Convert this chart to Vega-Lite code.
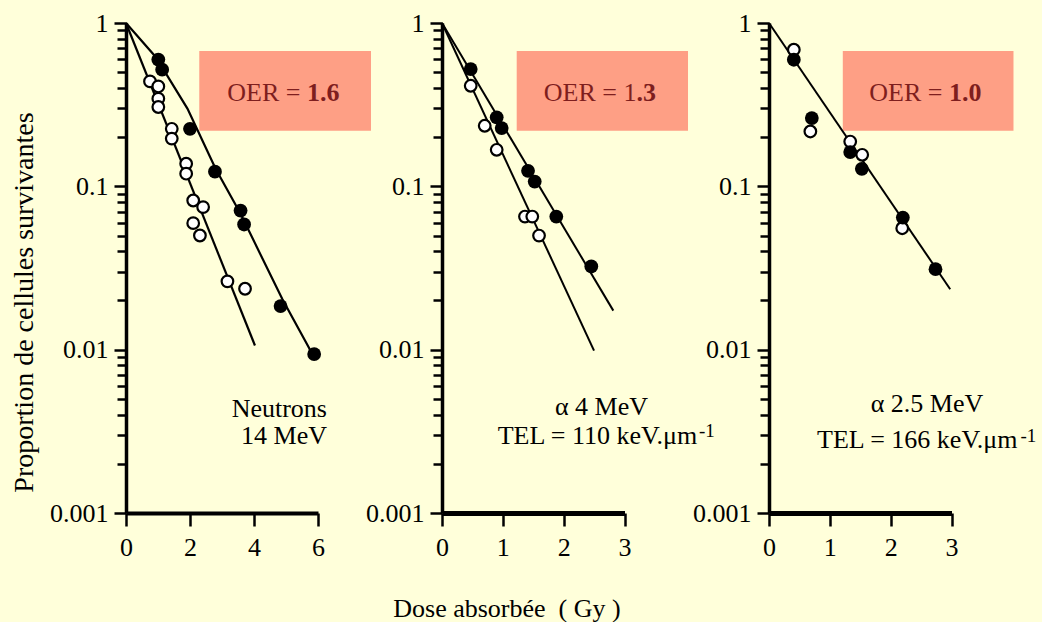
{
  "$schema": "https://vega.github.io/schema/vega-lite/v6.json",
  "background": "#FFFFDA",
  "padding": {"left": 10, "top": 10, "right": 5, "bottom": 0},
  "bounds": "flush",
  "spacing": 124,
  "config": {
    "view": {"stroke": null},
    "font": "Liberation Serif",
    "axis": {
      "grid": false,
      "domainColor": "black",
      "tickColor": "black",
      "labelColor": "black",
      "labelFont": "Liberation Serif",
      "labelFontSize": 26,
      "titleFont": "Liberation Serif",
      "titleFontSize": 26,
      "titleFontWeight": "normal",
      "titleColor": "black",
      "labelFlush": false,
      "labelOverlap": false,
      "tickWidth": 2.5
    },
    "axisX": {"domainWidth": 5, "tickSize": 13, "labelPadding": 8, "labelAngle": 0, "labelFontSize": 26},
    "axisY": {"domainWidth": 3.5, "labelPadding": 6, "labelFontSize": 26}
  },
  "datasets": {
    "box1": [{"dose": 2.29, "dose2": 7.656, "surv": 0.674, "surv2": 0.2188}],
    "box2": [{"dose": 1.228, "dose2": 4.044, "surv": 0.674, "surv2": 0.2188}],
    "box3": [{"dose": 1.213, "dose2": 4.019, "surv": 0.674, "surv2": 0.2188}],
    "pts1": [
      {"dose": 0.75, "surv": 0.439, "cond": "oxic"},
      {"dose": 1.01, "surv": 0.409, "cond": "oxic"},
      {"dose": 1.01, "surv": 0.344, "cond": "oxic"},
      {"dose": 1.01, "surv": 0.306, "cond": "oxic"},
      {"dose": 1.43, "surv": 0.225, "cond": "oxic"},
      {"dose": 1.43, "surv": 0.196, "cond": "oxic"},
      {"dose": 1.88, "surv": 0.1375, "cond": "oxic"},
      {"dose": 1.88, "surv": 0.1195, "cond": "oxic"},
      {"dose": 2.1, "surv": 0.0819, "cond": "oxic"},
      {"dose": 2.41, "surv": 0.0746, "cond": "oxic"},
      {"dose": 2.1, "surv": 0.0595, "cond": "oxic"},
      {"dose": 2.31, "surv": 0.05, "cond": "oxic"},
      {"dose": 3.17, "surv": 0.0262, "cond": "oxic"},
      {"dose": 3.72, "surv": 0.0236, "cond": "oxic"},
      {"dose": 1.01, "surv": 0.597, "cond": "hypoxic"},
      {"dose": 1.13, "surv": 0.518, "cond": "hypoxic"},
      {"dose": 2.0, "surv": 0.225, "cond": "hypoxic"},
      {"dose": 2.78, "surv": 0.123, "cond": "hypoxic"},
      {"dose": 3.58, "surv": 0.0711, "cond": "hypoxic"},
      {"dose": 3.69, "surv": 0.0584, "cond": "hypoxic"},
      {"dose": 4.83, "surv": 0.0185, "cond": "hypoxic"},
      {"dose": 5.88, "surv": 0.0094, "cond": "hypoxic"}
    ],
    "fit1": [
      {"dose": 0, "surv": 1, "cond": "hypoxic"},
      {"dose": 0.93, "surv": 0.619, "cond": "hypoxic"},
      {"dose": 1.92, "surv": 0.299, "cond": "hypoxic"},
      {"dose": 2.8, "surv": 0.128, "cond": "hypoxic"},
      {"dose": 3.58, "surv": 0.0679, "cond": "hypoxic"},
      {"dose": 4.88, "surv": 0.0205, "cond": "hypoxic"},
      {"dose": 5.88, "surv": 0.00898, "cond": "hypoxic"},
      {"dose": 0, "surv": 1, "cond": "oxic"},
      {"dose": 4.03, "surv": 0.0106, "cond": "oxic"}
    ],
    "txt1": [
      {"dose": 5.453, "surv": 0.3709, "part": "oer", "label": "OER ="},
      {"dose": 5.453, "surv": 0.3709, "part": "oerval", "label": "1.6"},
      {"dose": 6.28, "surv": 0.003855, "part": "note", "label": "Neutrons"},
      {"dose": 6.28, "surv": 0.00265, "part": "note", "label": "14 MeV"}
    ],
    "pts2": [
      {"dose": 0.472, "surv": 0.4127, "cond": "oxic"},
      {"dose": 0.702, "surv": 0.2348, "cond": "oxic"},
      {"dose": 0.899, "surv": 0.1674, "cond": "oxic"},
      {"dose": 1.364, "surv": 0.0653, "cond": "oxic"},
      {"dose": 1.484, "surv": 0.0653, "cond": "oxic"},
      {"dose": 1.595, "surv": 0.04995, "cond": "oxic"},
      {"dose": 0.472, "surv": 0.5224, "cond": "hypoxic"},
      {"dose": 0.899, "surv": 0.2644, "cond": "hypoxic"},
      {"dose": 0.981, "surv": 0.2273, "cond": "hypoxic"},
      {"dose": 1.414, "surv": 0.1245, "cond": "hypoxic"},
      {"dose": 1.524, "surv": 0.107, "cond": "hypoxic"},
      {"dose": 1.879, "surv": 0.0653, "cond": "hypoxic"},
      {"dose": 2.454, "surv": 0.0323, "cond": "hypoxic"}
    ],
    "fit2": [
      {"dose": 0, "surv": 1, "cond": "hypoxic"},
      {"dose": 2.816, "surv": 0.01734, "cond": "hypoxic"},
      {"dose": 0, "surv": 1, "cond": "oxic"},
      {"dose": 2.499, "surv": 0.00986, "cond": "oxic"}
    ],
    "txt2": [
      {"dose": 3.197, "surv": 0.3709, "part": "oer", "label": "OER = 1"},
      {"dose": 3.197, "surv": 0.3709, "part": "oerval", "label": ".3"},
      {"dose": 2.622, "surv": 0.003963, "part": "particle", "label": "α 4 MeV"},
      {"dose": 4.195, "surv": 0.00266, "part": "tel", "label": "TEL = 110 keV.μm"},
      {"dose": 4.225, "surv": 0.002913, "part": "exp", "label": "-1"}
    ],
    "pts3": [
      {"dose": 0.408, "surv": 0.686, "cond": "oxic"},
      {"dose": 0.68, "surv": 0.2167, "cond": "oxic"},
      {"dose": 1.335, "surv": 0.188, "cond": "oxic"},
      {"dose": 1.532, "surv": 0.156, "cond": "oxic"},
      {"dose": 2.19, "surv": 0.0554, "cond": "oxic"},
      {"dose": 0.408, "surv": 0.5957, "cond": "hypoxic"},
      {"dose": 0.704, "surv": 0.2618, "cond": "hypoxic"},
      {"dose": 1.335, "surv": 0.162, "cond": "hypoxic"},
      {"dose": 1.526, "surv": 0.128, "cond": "hypoxic"},
      {"dose": 2.2, "surv": 0.0644, "cond": "hypoxic"},
      {"dose": 2.737, "surv": 0.0311, "cond": "hypoxic"}
    ],
    "fit3": [
      {"dose": 0, "surv": 1, "cond": "both"},
      {"dose": 2.979, "surv": 0.02344, "cond": "both"}
    ],
    "txt3": [
      {"dose": 2.852, "surv": 0.3709, "part": "oer", "label": "OER ="},
      {"dose": 2.852, "surv": 0.3709, "part": "oerval", "label": "1.0"},
      {"dose": 2.597, "surv": 0.004169, "part": "particle", "label": "α 2.5 MeV"},
      {"dose": 4.085, "surv": 0.002488, "part": "tel", "label": "TEL = 166 keV.μm"},
      {"dose": 4.135, "surv": 0.002719, "part": "exp", "label": "-1"}
    ]
  },
  "hconcat": [
    {
      "width": 192,
      "height": 490,
      "layer": [
        {
          "data": {"name": "box1"},
          "mark": {"type": "rect", "color": "#FE9F85"},
          "encoding": {
            "x": {"field": "dose", "type": "quantitative", "scale": {"domain": [0, 6], "nice": false, "zero": false},
              "axis": {"values": [0, 1, 2, 3, 4, 5, 6], "format": "d", "labelExpr": "datum.value % 2 == 0 ? datum.label : ''", "title": null, "domainWidth": 4, "labelFontSize": 26}},
            "x2": {"field": "dose2"},
            "y": {"field": "surv", "type": "quantitative", "scale": {"type": "log", "domain": [0.001, 1], "nice": false},
              "axis": {
                "values": [0.001, 0.002, 0.003, 0.004, 0.005, 0.006, 0.007, 0.008, 0.009, 0.01, 0.02, 0.03, 0.04, 0.05, 0.06, 0.07, 0.08, 0.09, 0.1, 0.2, 0.3, 0.4, 0.5, 0.6, 0.7, 0.8, 0.9, 1],
                "labelExpr": "abs(log(datum.value)/LN10 - round(log(datum.value)/LN10)) < 0.01 ? format(datum.value, '~g') : ''",
                "tickSize": {"condition": {"test": "abs(log(datum.value)/LN10 - round(log(datum.value)/LN10)) < 0.01", "value": 12}, "value": 9},
                "labelFontSize": 26,
                "title": "Proportion de cellules survivantes",
                "titleFontSize": 28,
                "titleAngle": -90,
                "titleX": -94,
                "titleY": 279,
                "titleAlign": "center",
                "titleBaseline": "alphabetic"
              }},
            "y2": {"field": "surv2"}
          }
        },
        {
          "data": {"name": "fit1"},
          "mark": {"type": "line", "color": "black", "strokeWidth": 2.2},
          "encoding": {
            "x": {"field": "dose", "type": "quantitative"},
            "y": {"field": "surv", "type": "quantitative"},
            "detail": {"field": "cond"}
          }
        },
        {
          "data": {"name": "pts1"},
          "transform": [{"filter": "datum.cond == 'oxic'"}],
          "mark": {"type": "point", "shape": "circle", "filled": true, "fill": "white", "stroke": "black", "strokeWidth": 2.2, "size": 135, "opacity": 1},
          "encoding": {
            "x": {"field": "dose", "type": "quantitative"},
            "y": {"field": "surv", "type": "quantitative"}
          }
        },
        {
          "data": {"name": "pts1"},
          "transform": [{"filter": "datum.cond == 'hypoxic'"}],
          "mark": {"type": "point", "shape": "circle", "filled": true, "color": "black", "size": 190, "opacity": 1},
          "encoding": {
            "x": {"field": "dose", "type": "quantitative"},
            "y": {"field": "surv", "type": "quantitative"}
          }
        },
        {
          "data": {"name": "txt1"},
          "transform": [{"filter": "datum.part == 'oer'"}],
          "mark": {"type": "text", "align": "right", "baseline": "middle", "fontSize": 26, "color": "#7E1E1E"},
          "encoding": {
            "x": {"field": "dose", "type": "quantitative"},
            "y": {"field": "surv", "type": "quantitative"},
            "text": {"field": "label"}
          }
        },
        {
          "data": {"name": "txt1"},
          "transform": [{"filter": "datum.part == 'oerval'"}],
          "mark": {"type": "text", "align": "left", "baseline": "middle", "fontSize": 26, "fontWeight": "bold", "dx": 6.5, "color": "#7E1E1E"},
          "encoding": {
            "x": {"field": "dose", "type": "quantitative"},
            "y": {"field": "surv", "type": "quantitative"},
            "text": {"field": "label"}
          }
        },
        {
          "data": {"name": "txt1"},
          "transform": [{"filter": "datum.part == 'note'"}],
          "mark": {"type": "text", "align": "right", "baseline": "alphabetic", "fontSize": 26, "color": "black"},
          "encoding": {
            "x": {"field": "dose", "type": "quantitative"},
            "y": {"field": "surv", "type": "quantitative"},
            "text": {"field": "label"}
          }
        }
      ]
    },
    {
      "width": 202.5,
      "height": 490,
      "layer": [
        {
          "data": {"name": "box2"},
          "mark": {"type": "rect", "color": "#FE9F85"},
          "encoding": {
            "x": {"field": "dose", "type": "quantitative", "scale": {"domain": [0, 3], "range": [0, 182.5], "nice": false, "zero": false},
              "axis": {"values": [0, 1, 2, 3], "format": "d", "labelFontSize": 26, "title": "Dose absorbée\u00a0 ( Gy )", "titleX": 64.5, "titleY": 103.5, "titleAlign": "center", "titleBaseline": "alphabetic", "titleAnchor": null}},
            "x2": {"field": "dose2"},
            "y": {"field": "surv", "type": "quantitative", "scale": {"type": "log", "domain": [0.001, 1], "nice": false},
              "axis": {
                "values": [0.001, 0.002, 0.003, 0.004, 0.005, 0.006, 0.007, 0.008, 0.009, 0.01, 0.02, 0.03, 0.04, 0.05, 0.06, 0.07, 0.08, 0.09, 0.1, 0.2, 0.3, 0.4, 0.5, 0.6, 0.7, 0.8, 0.9, 1],
                "labelExpr": "abs(log(datum.value)/LN10 - round(log(datum.value)/LN10)) < 0.01 ? format(datum.value, '~g') : ''",
                "tickSize": {"condition": {"test": "abs(log(datum.value)/LN10 - round(log(datum.value)/LN10)) < 0.01", "value": 12}, "value": 9},
                "labelFontSize": 26,
                "title": null
              }},
            "y2": {"field": "surv2"}
          }
        },
        {
          "data": {"name": "fit2"},
          "mark": {"type": "line", "color": "black", "strokeWidth": 2},
          "encoding": {
            "x": {"field": "dose", "type": "quantitative"},
            "y": {"field": "surv", "type": "quantitative"},
            "detail": {"field": "cond"}
          }
        },
        {
          "data": {"name": "pts2"},
          "transform": [{"filter": "datum.cond == 'oxic'"}],
          "mark": {"type": "point", "shape": "circle", "filled": true, "fill": "white", "stroke": "black", "strokeWidth": 2.2, "size": 135, "opacity": 1},
          "encoding": {
            "x": {"field": "dose", "type": "quantitative"},
            "y": {"field": "surv", "type": "quantitative"}
          }
        },
        {
          "data": {"name": "pts2"},
          "transform": [{"filter": "datum.cond == 'hypoxic'"}],
          "mark": {"type": "point", "shape": "circle", "filled": true, "color": "black", "size": 190, "opacity": 1},
          "encoding": {
            "x": {"field": "dose", "type": "quantitative"},
            "y": {"field": "surv", "type": "quantitative"}
          }
        },
        {
          "data": {"name": "txt2"},
          "transform": [{"filter": "datum.part == 'oer'"}],
          "mark": {"type": "text", "align": "right", "baseline": "middle", "fontSize": 26, "color": "#7E1E1E"},
          "encoding": {
            "x": {"field": "dose", "type": "quantitative"},
            "y": {"field": "surv", "type": "quantitative"},
            "text": {"field": "label"}
          }
        },
        {
          "data": {"name": "txt2"},
          "transform": [{"filter": "datum.part == 'oerval'"}],
          "mark": {"type": "text", "align": "left", "baseline": "middle", "fontSize": 26, "fontWeight": "bold", "color": "#7E1E1E"},
          "encoding": {
            "x": {"field": "dose", "type": "quantitative"},
            "y": {"field": "surv", "type": "quantitative"},
            "text": {"field": "label"}
          }
        },
        {
          "data": {"name": "txt2"},
          "transform": [{"filter": "datum.part == 'particle'"}],
          "mark": {"type": "text", "align": "center", "baseline": "alphabetic", "fontSize": 26, "color": "black"},
          "encoding": {
            "x": {"field": "dose", "type": "quantitative"},
            "y": {"field": "surv", "type": "quantitative"},
            "text": {"field": "label"}
          }
        },
        {
          "data": {"name": "txt2"},
          "transform": [{"filter": "datum.part == 'tel'"}],
          "mark": {"type": "text", "align": "right", "baseline": "alphabetic", "fontSize": 26, "color": "black"},
          "encoding": {
            "x": {"field": "dose", "type": "quantitative"},
            "y": {"field": "surv", "type": "quantitative"},
            "text": {"field": "label"}
          }
        },
        {
          "data": {"name": "txt2"},
          "transform": [{"filter": "datum.part == 'exp'"}],
          "mark": {"type": "text", "align": "left", "baseline": "alphabetic", "fontSize": 19, "color": "black"},
          "encoding": {
            "x": {"field": "dose", "type": "quantitative"},
            "y": {"field": "surv", "type": "quantitative"},
            "text": {"field": "label"}
          }
        }
      ]
    },
    {
      "width": 182.5,
      "height": 490,
      "layer": [
        {
          "data": {"name": "box3"},
          "mark": {"type": "rect", "color": "#FE9F85"},
          "encoding": {
            "x": {"field": "dose", "type": "quantitative", "scale": {"domain": [0, 3], "nice": false, "zero": false},
              "axis": {"values": [0, 1, 2, 3], "format": "d", "labelFontSize": 26, "title": null}},
            "x2": {"field": "dose2"},
            "y": {"field": "surv", "type": "quantitative", "scale": {"type": "log", "domain": [0.001, 1], "nice": false},
              "axis": {
                "values": [0.001, 0.002, 0.003, 0.004, 0.005, 0.006, 0.007, 0.008, 0.009, 0.01, 0.02, 0.03, 0.04, 0.05, 0.06, 0.07, 0.08, 0.09, 0.1, 0.2, 0.3, 0.4, 0.5, 0.6, 0.7, 0.8, 0.9, 1],
                "labelExpr": "abs(log(datum.value)/LN10 - round(log(datum.value)/LN10)) < 0.01 ? format(datum.value, '~g') : ''",
                "tickSize": {"condition": {"test": "abs(log(datum.value)/LN10 - round(log(datum.value)/LN10)) < 0.01", "value": 12}, "value": 9},
                "labelFontSize": 26,
                "title": null
              }},
            "y2": {"field": "surv2"}
          }
        },
        {
          "data": {"name": "fit3"},
          "mark": {"type": "line", "color": "black", "strokeWidth": 2},
          "encoding": {
            "x": {"field": "dose", "type": "quantitative"},
            "y": {"field": "surv", "type": "quantitative"},
            "detail": {"field": "cond"}
          }
        },
        {
          "data": {"name": "pts3"},
          "transform": [{"filter": "datum.cond == 'oxic'"}],
          "mark": {"type": "point", "shape": "circle", "filled": true, "fill": "white", "stroke": "black", "strokeWidth": 2.2, "size": 135, "opacity": 1},
          "encoding": {
            "x": {"field": "dose", "type": "quantitative"},
            "y": {"field": "surv", "type": "quantitative"}
          }
        },
        {
          "data": {"name": "pts3"},
          "transform": [{"filter": "datum.cond == 'hypoxic'"}],
          "mark": {"type": "point", "shape": "circle", "filled": true, "color": "black", "size": 190, "opacity": 1},
          "encoding": {
            "x": {"field": "dose", "type": "quantitative"},
            "y": {"field": "surv", "type": "quantitative"}
          }
        },
        {
          "data": {"name": "txt3"},
          "transform": [{"filter": "datum.part == 'oer'"}],
          "mark": {"type": "text", "align": "right", "baseline": "middle", "fontSize": 26, "color": "#7E1E1E"},
          "encoding": {
            "x": {"field": "dose", "type": "quantitative"},
            "y": {"field": "surv", "type": "quantitative"},
            "text": {"field": "label"}
          }
        },
        {
          "data": {"name": "txt3"},
          "transform": [{"filter": "datum.part == 'oerval'"}],
          "mark": {"type": "text", "align": "left", "baseline": "middle", "fontSize": 26, "fontWeight": "bold", "dx": 6.5, "color": "#7E1E1E"},
          "encoding": {
            "x": {"field": "dose", "type": "quantitative"},
            "y": {"field": "surv", "type": "quantitative"},
            "text": {"field": "label"}
          }
        },
        {
          "data": {"name": "txt3"},
          "transform": [{"filter": "datum.part == 'particle'"}],
          "mark": {"type": "text", "align": "center", "baseline": "alphabetic", "fontSize": 26, "color": "black"},
          "encoding": {
            "x": {"field": "dose", "type": "quantitative"},
            "y": {"field": "surv", "type": "quantitative"},
            "text": {"field": "label"}
          }
        },
        {
          "data": {"name": "txt3"},
          "transform": [{"filter": "datum.part == 'tel'"}],
          "mark": {"type": "text", "align": "right", "baseline": "alphabetic", "fontSize": 26, "color": "black"},
          "encoding": {
            "x": {"field": "dose", "type": "quantitative"},
            "y": {"field": "surv", "type": "quantitative"},
            "text": {"field": "label"}
          }
        },
        {
          "data": {"name": "txt3"},
          "transform": [{"filter": "datum.part == 'exp'"}],
          "mark": {"type": "text", "align": "left", "baseline": "alphabetic", "fontSize": 19, "color": "black"},
          "encoding": {
            "x": {"field": "dose", "type": "quantitative"},
            "y": {"field": "surv", "type": "quantitative"},
            "text": {"field": "label"}
          }
        }
      ]
    }
  ]
}
